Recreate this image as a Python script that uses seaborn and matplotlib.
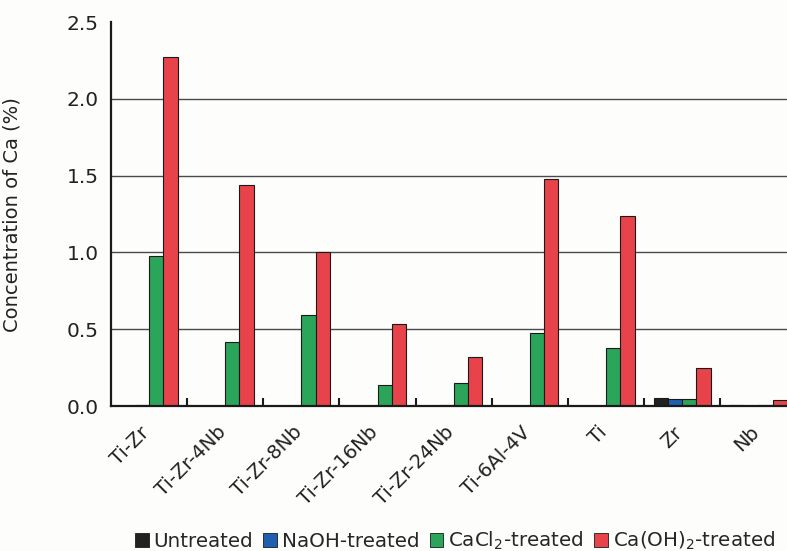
import numpy as np
import pandas as pd
import matplotlib
matplotlib.use("Agg")
import matplotlib.pyplot as plt
import seaborn as sns
from matplotlib.ticker import FixedLocator

# Materials (x categories) and surface treatments (hue)
materials = ["Ti-Zr", "Ti-Zr-4Nb", "Ti-Zr-8Nb", "Ti-Zr-16Nb", "Ti-Zr-24Nb",
             "Ti-6Al-4V", "Ti", "Zr", "Nb"]
treatments = ["Untreated", "NaOH-treated", "CaCl$_2$-treated", "Ca(OH)$_2$-treated"]

# Ca concentration (%) for each treatment
untreated = [0.0, 0.0, 0.0, 0.0, 0.0, 0.0, 0.0, 0.05, 0.008]
naoh      = [0.01, 0.0, 0.0, 0.0, 0.008, 0.0, 0.0, 0.045, 0.0]
cacl2     = [0.98, 0.42, 0.59, 0.14, 0.15, 0.475, 0.38, 0.045, 0.01]
caoh2     = [2.27, 1.44, 1.00, 0.535, 0.32, 1.475, 1.24, 0.25, 0.04]

colors = ["#222222", "#1f5fb0", "#2aa55a", "#e8434a"]

rows = []
for tr, vals in zip(treatments, [untreated, naoh, cacl2, caoh2]):
    for m, v in zip(materials, vals):
        rows.append({"Material": m, "Treatment": tr, "Ca": v})
df = pd.DataFrame(rows)

sns.set_theme(style="white")
plt.rcParams["font.family"] = ["DejaVu Sans"]
plt.rcParams["mathtext.default"] = "regular"

fig = plt.figure(figsize=(7.87, 5.51), dpi=100, facecolor="#fdfdfb")
ax = fig.add_axes([0.141, 0.263, 0.871, 0.697])
ax.set_facecolor("#fdfdfb")

sns.barplot(data=df, x="Material", y="Ca", hue="Treatment",
            hue_order=treatments, order=materials, palette=colors,
            saturation=1, width=0.75, edgecolor="#1a1a1a", linewidth=0.8,
            errorbar=None, legend=False, ax=ax, zorder=3)

ax.set_ylim(0, 2.5)
ax.set_xlim(-0.5, len(materials) - 0.5)
ax.set_yticks([0.0, 0.5, 1.0, 1.5, 2.0, 2.5])
ax.set_yticklabels(["0.0", "0.5", "1.0", "1.5", "2.0", "2.5"], fontsize=14.5, color="#222222")
for yv in [0.5, 1.0, 1.5, 2.0]:
    ax.axhline(yv, color="#4a4a4a", lw=1.0, zorder=1)

# category labels sit slightly left of each group centre, rotated 45 degrees
ax.set_xticks(np.arange(len(materials)) - 0.12)
ax.set_xticklabels(materials, rotation=45, ha="right", va="top",
                   rotation_mode="anchor", fontsize=14, color="#222222")
ax.tick_params(axis="x", which="major", length=0, pad=12)
ax.tick_params(axis="y", which="major", length=0, pad=9)
ax.xaxis.set_minor_locator(FixedLocator(np.arange(0.5, len(materials) - 0.5, 1.0)))
ax.tick_params(axis="x", which="minor", direction="in", length=6, width=1.5,
               color="#1a1a1a", bottom=True)

ax.set_xlabel("")
ax.set_ylabel("Concentration of Ca (%)", fontsize=14, color="#222222")
ax.yaxis.set_label_coords(-0.13, 0.5)

for side in ["top", "right"]:
    ax.spines[side].set_visible(False)
for side in ["left", "bottom"]:
    ax.spines[side].set_color("#1a1a1a")
    ax.spines[side].set_linewidth(1.6)
    ax.spines[side].set_zorder(4)

handles = [plt.Rectangle((0, 0), 1, 1, facecolor=c, edgecolor="#1a1a1a", lw=0.6)
           for c in colors]
fig.legend(handles, treatments, loc="center", bbox_to_anchor=(0.578, 0.018),
           ncol=4, frameon=False, fontsize=14.3, handlelength=0.7, handleheight=0.7,
           handletextpad=0.25, columnspacing=0.5, borderaxespad=0, borderpad=0)

fig.savefig("out.png", dpi=100, facecolor=fig.get_facecolor())
